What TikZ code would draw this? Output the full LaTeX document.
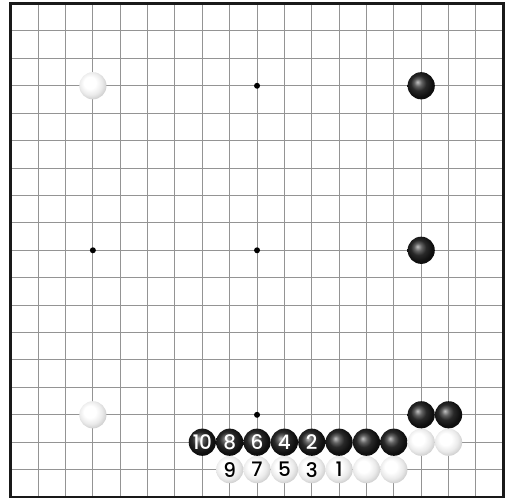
\documentclass[tikz,border=0pt]{standalone}
\usepackage{fontspec}
\newfontfamily\numfont{Poppins Medium}
\pgfdeclareradialshading{bstoneshade}{\pgfpoint{-7bp}{7bp}}{color(0bp)=(black!25); color(2bp)=(black!35); color(7bp)=(black!62); color(14bp)=(black!84); color(24bp)=(black!94); color(50bp)=(black)}
\pgfdeclareradialshading{wstoneshade}{\pgfpoint{-7bp}{7bp}}{color(0bp)=(white); color(11bp)=(white); color(21bp)=(black!8); color(29bp)=(black!20); color(35bp)=(black!32); color(50bp)=(black!32)}
\tikzset{
  gridline/.style={draw=black!42, line width=1pt},
  boardedge/.style={draw=black!90, line width=2.7pt},
  hoshi/.style={circle, fill=black, inner sep=0pt, minimum size=6pt},
  stonebase/.style={circle, inner sep=0pt, minimum size=27.2pt, font=\numfont\fontsize{20}{20}\selectfont},
  bst/.style={stonebase, shading=bstoneshade, text=white},
  wst/.style={stonebase, shading=wstoneshade, text=black},
}
\begin{document}
\begin{tikzpicture}[x=27.36pt,y=-27.42pt]
\useasboundingbox (-10.8pt,3.5pt) rectangle (496.2pt,-495.5pt);
% grid
\foreach \i in {1,...,17} {
  \draw[gridline] (\i,0) -- (\i,18);
  \draw[gridline] (0,\i) -- (18,\i);
}
\draw[boardedge] (0,0) rectangle (18,18);
% star points
\node[hoshi] (h1) at (9,3) {};
\node[hoshi] (h2) at (3,9) {};
\node[hoshi] (h3) at (9,9) {};
\node[hoshi] (h4) at (9,15) {};
% corner stones
\node[wst] (w1) at (3,3) {};
\node[bst] (b1) at (15,3) {};
\node[bst] (b2) at (15,9) {};
\node[wst] (w2) at (3,15) {};
\node[bst] (b3) at (15,15) {};
\node[bst] (b4) at (16,15) {};
% row 16
\node[bst] (m10) at (7,16) {1\kern-0.4pt0};
\node[bst] (m8) at (8,16) {8};
\node[bst] (m6) at (9,16) {6};
\node[bst] (m4) at (10,16) {4};
\node[bst] (m2) at (11,16) {2};
\node[bst] (b5) at (12,16) {};
\node[bst] (b6) at (13,16) {};
\node[bst] (b7) at (14,16) {};
\node[wst] (w3) at (15,16) {};
\node[wst] (w4) at (16,16) {};
% row 17
\node[wst] (m9) at (8,17) {9};
\node[wst] (m7) at (9,17) {7};
\node[wst] (m5) at (10,17) {5};
\node[wst] (m3) at (11,17) {3};
\node[wst] (m1) at (12,17) {1};
\node[wst] (w5) at (13,17) {};
\node[wst] (w6) at (14,17) {};
\end{tikzpicture}
\end{document}
